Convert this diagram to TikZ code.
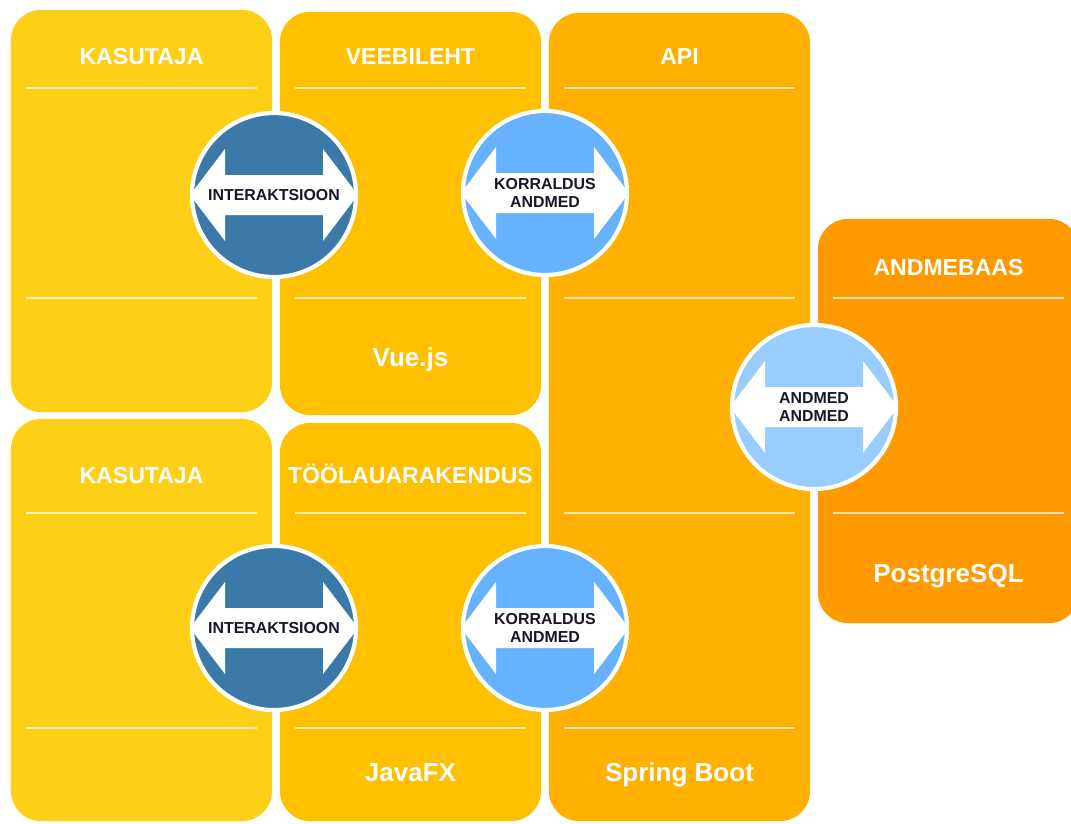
\documentclass[tikz,border=0pt]{standalone}
\usepackage{fontspec}
\setmainfont{Liberation Sans}
\definecolor{useryellow}{RGB}{253,208,23}
\definecolor{clientamber}{RGB}{255,192,0}
\definecolor{apiorange}{RGB}{255,176,0}
\definecolor{dborange}{RGB}{255,153,0}
\definecolor{darkblue}{RGB}{58,121,168}
\definecolor{midblue}{RGB}{102,178,255}
\definecolor{paleblue}{RGB}{153,204,255}
\definecolor{inkdark}{RGB}{22,22,40}

\begin{document}
\begin{tikzpicture}[
        x=0.025cm, y=-0.025cm,
        tier/.style={rectangle, rounded corners=0.75cm, minimum width=6.525cm, inner sep=0pt},
        head/.style={text=white, font=\bfseries\fontsize{16.4}{18}\selectfont, anchor=base},
        tech/.style={text=white, font=\bfseries\fontsize{18.5}{20}\selectfont, anchor=base},
        sepline/.style={white, opacity=0.7, line width=1.5pt},
        twoway/.style={circle, minimum size=4.1cm, inner sep=0pt, draw=white, line width=3pt, text=inkdark, align=center, font=\bfseries\fontsize{11.3}{12.8}\selectfont,
            path picture={\fill[white] (path picture bounding box.center) ++(-84,0) -- ++(35,-46) -- ++(0,26) -- ++(98,0) -- ++(0,-26) -- ++(35,46) -- ++(-35,46) -- ++(0,-26) -- ++(-98,0) -- ++(0,26) -- cycle;}}
    ]
        \useasboundingbox (0,0) rectangle (1071,823);
        \fill[white] (0,0) rectangle (1071,823);

        % columns
        \node[tier, fill=useryellow, minimum height=10.05cm] (kasutajaweb) at (141.5,211) {};
        \node[tier, fill=clientamber, minimum height=10.075cm] (veebileht) at (410.5,213.5) {};
        \node[tier, fill=apiorange, minimum height=20.2cm] (api) at (679.5,417) {};
        \node[tier, fill=dborange, minimum height=10.1cm] (andmebaas) at (948.5,421) {};
        \node[tier, fill=useryellow, minimum height=10.05cm] (kasutajadesk) at (141.5,620) {};
        \node[tier, fill=clientamber, minimum height=9.95cm] (toolaud) at (410.5,622) {};

        \node[head] (kasutajawebhead) at (141.5,64) {KASUTAJA};
        \node[head] (veebilehthead) at (410.5,64) {VEEBILEHT};
        \node[head] (apihead) at (679.5,64) {API};
        \node[head] (andmebaashead) at (948.5,275) {ANDMEBAAS};
        \node[head] (kasutajadeskhead) at (141.5,483) {KASUTAJA};
        \node[head] (toolaudhead) at (410.5,483) {TÖÖLAUARAKENDUS};

        \node[tech] (vuejs) at (410.5,366) {Vue.js};
        \node[tech] (postgres) at (948.5,582) {PostgreSQL};
        \node[tech] (javafx) at (410.5,781) {JavaFX};
        \node[tech] (springboot) at (679.5,781) {Spring Boot};

        % separators
        \draw[sepline] (26,88) -- (257,88) (26,298) -- (257,298);
        \draw[sepline] (295,88) -- (526,88) (295,298) -- (526,298);
        \draw[sepline] (564,88) -- (795,88) (564,298) -- (795,298) (564,513) -- (795,513) (564,728) -- (795,728);
        \draw[sepline] (833,298) -- (1064,298) (833,513) -- (1064,513);
        \draw[sepline] (26,513) -- (257,513) (26,728) -- (257,728);
        \draw[sepline] (295,513) -- (526,513) (295,728) -- (526,728);

        % exchanges
        \node[twoway, fill=darkblue] (webuser) at (274,195) {INTERAKTSIOON};
        \node[twoway, fill=midblue] (webapi) at (545,193) {KORRALDUS\\ANDMED};
        \node[twoway, fill=paleblue] (apidb) at (814,407) {ANDMED\\ANDMED};
        \node[twoway, fill=darkblue] (deskuser) at (274,628) {INTERAKTSIOON};
        \node[twoway, fill=midblue] (deskapi) at (545,628) {KORRALDUS\\ANDMED};
    \end{tikzpicture}
\end{document}
